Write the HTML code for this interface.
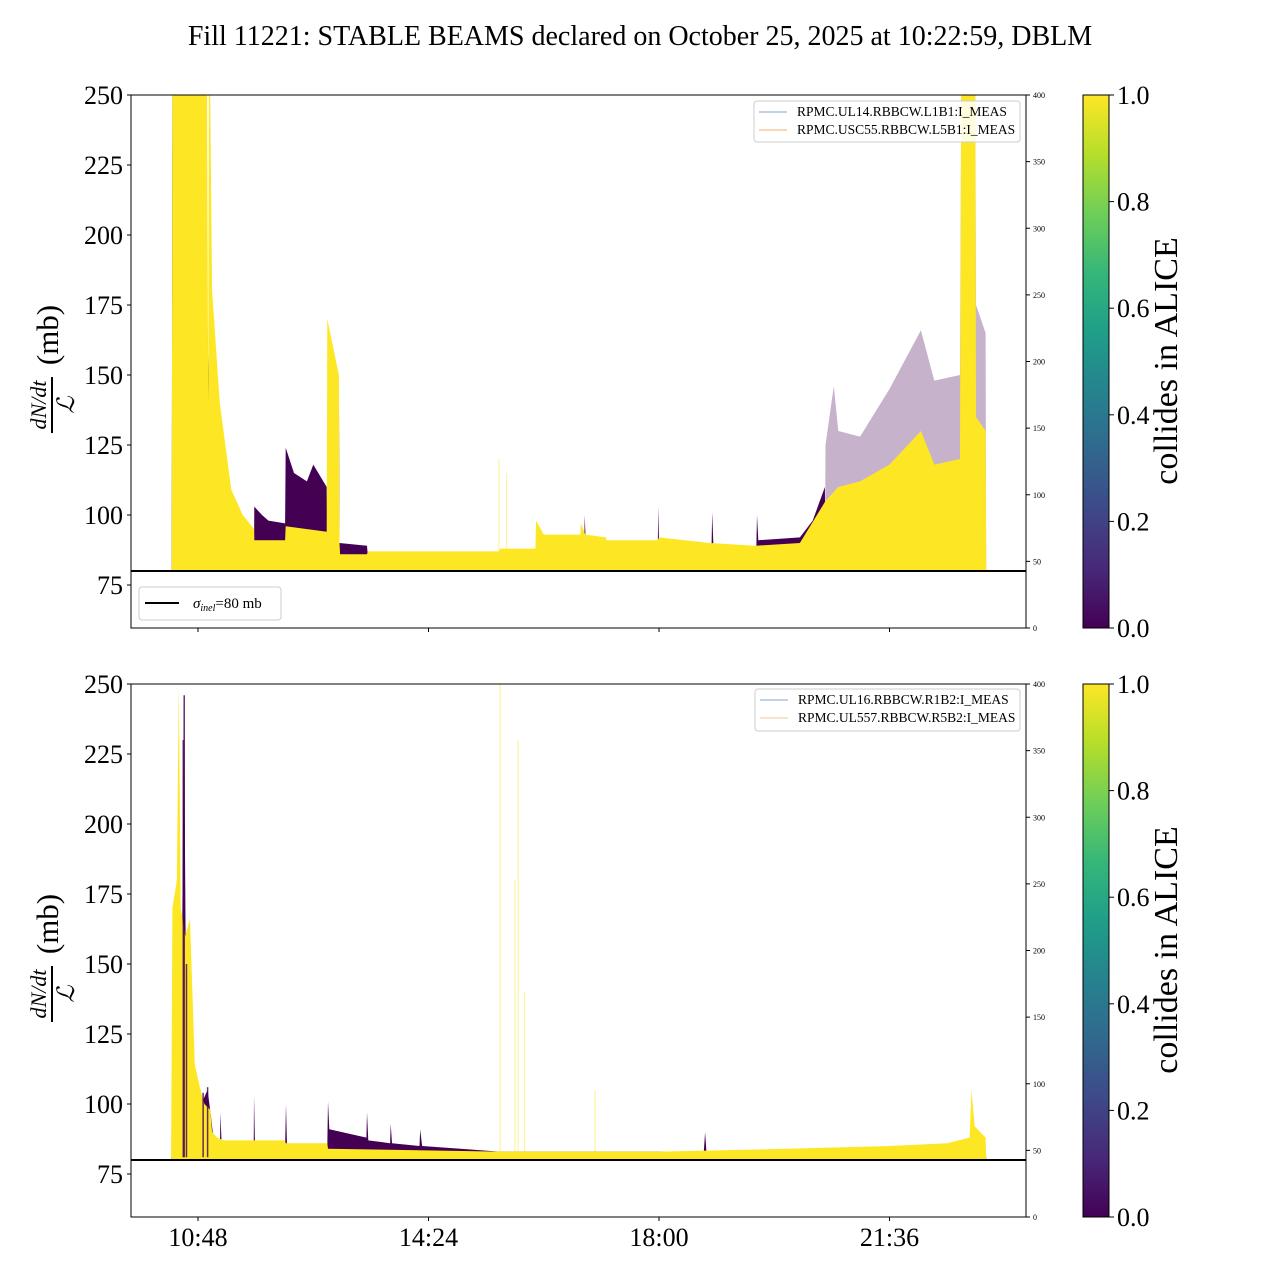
<!DOCTYPE html>
<html><head><meta charset="utf-8">
<style>
html,body{margin:0;padding:0;background:#fff;}
svg{display:block;font-family:"Liberation Serif","DejaVu Serif",serif;}
</style></head>
<body>
<svg id="chart" width="1280" height="1280" viewBox="0 0 1280 1280" xmlns="http://www.w3.org/2000/svg">
<defs>
<linearGradient id="viridis" x1="0" y1="1" x2="0" y2="0">
<stop offset="0" stop-color="#440154"/><stop offset="0.111" stop-color="#482878"/>
<stop offset="0.222" stop-color="#3e4989"/><stop offset="0.333" stop-color="#31688e"/>
<stop offset="0.444" stop-color="#26828e"/><stop offset="0.555" stop-color="#1f9e89"/>
<stop offset="0.666" stop-color="#35b779"/><stop offset="0.777" stop-color="#6ece58"/>
<stop offset="0.888" stop-color="#b5de2b"/><stop offset="1" stop-color="#fde725"/>
</linearGradient>
<clipPath id="clipTop"><rect x="131" y="95" width="895" height="533"/></clipPath>
<clipPath id="clipBot"><rect x="131" y="684" width="895" height="533"/></clipPath>
</defs>
<text x="640" y="45" font-size="28" text-anchor="middle">Fill 11221: STABLE BEAMS declared on October 25, 2025 at 10:22:59, DBLM</text>
<g id="layer"></g>
</svg>
<script>
// ---- data (hours of day, mb) ----
const xTickHours = [10.8, 14.4, 18.0, 21.6];
const xTickLabels = ["10:48", "14:24", "18:00", "21:36"];
const yTicks = [75, 100, 125, 150, 175, 200, 225, 250];
const rightTicks = [0, 50, 100, 150, 200, 250, 300, 350, 400];
const cbarTicks = [0.0, 0.2, 0.4, 0.6, 0.8, 1.0];

const topYellowT = [10.39,10.40,10.94,10.96,10.97,10.99,11.02,11.14,11.32,11.5,11.675,11.68,12.16,12.17,12.81,12.82,13.0,13.01,13.02,13.44,13.45,15.5,15.52,16.07,16.08,16.2,16.77,16.78,16.85,17.17,17.18,17.98,18.0,18.8,19.5,20.2,20.6,20.8,21.14,21.6,22.09,22.3,22.7,22.72,22.94,22.95,23.1,23.11];
const topYellowV = [81,250,250,140,250,250,180,140,109,100,95,91,91,96,94,170,150,90,86,86,87,87,88,88,98,93,93,97,93,92,91,91,92,90,89,90,105,110,112,118,130,118,120,250,250,135,130,81];
const topPurpleT = [10.39,10.40,10.91,10.93,10.99,11.14,11.3,11.675,11.68,11.8,11.9,12.16,12.17,12.3,12.5,12.6,12.81,12.82,12.99,13.0,13.01,13.44,13.45,16.83,16.84,16.86,17.98,17.99,18.0,18.82,18.83,18.85,19.52,19.53,19.55,20.2,20.4,20.59,20.6];
const topPurpleV = [81,250,250,187,120,95,88,86,103,100,98,97,124,115,112,118,110,92,92,149,90,89,86,86,100,88,88,103,89,88,101,89,88,100,91,92,98,110,81];
const topFaintT = [20.59,20.6,20.73,20.8,21.14,21.6,22.09,22.3,22.7,22.72,22.94,22.95,23.1,23.11];
const topFaintV = [81,125,146,130,128,145,166,148,150,250,250,175,165,81];

const botYellowT = [10.38,10.40,10.47,10.50,10.53,10.6,10.675,10.75,10.83,10.9,10.99,11.02,11.1,11.2,12.16,12.17,12.82,12.83,15.5,18.0,20.0,21.6,22.5,22.85,22.88,22.93,23.1,23.11];
const botYellowV = [81,170,180,250,170,160,166,114,106,100,98,90,88,87,87,86,86,84,83,83,84,85,86,88,105,92,88,81];
const botPurpleT = [10.38,10.52,10.55,10.58,10.61,10.675,10.75,10.85,10.95,11.0,11.05,11.144,11.15,11.17,11.67,11.675,11.69,12.16,12.174,12.19,12.82,12.83,12.85,13.43,13.44,13.46,13.8,13.81,13.83,14.26,14.27,14.3,14.9,15.5,18.7,18.72,18.74,23.1,23.11];
const botPurpleV = [81,81,150,246,150,140,110,100,105,96,86,86,97,85,85,103,85,85,100,85,85,101,91,88,97,87,86,93,86,85,91,85,84,83,83,90,83,82,81];
const botPurpleSpikeT = [10.57, 10.585, 10.62, 10.88, 10.95];
const botPurpleSpikeV = [230, 246, 150, 104, 106];
const botSpikeT = [15.52, 15.75, 15.8, 15.9, 17.0];
const botSpikeV = [250, 180, 230, 140, 105];
const topSpikeT = [15.5, 15.62];
const topSpikeV = [120, 115];

// ---- axes ----
const NS = "http://www.w3.org/2000/svg";
const layer = document.getElementById("layer");
function xs(h){ return 198 + (h - 10.8) * 64.03; }
function ysF(top){ return v => top + (250 - v) * 2.8; }
function rs(top){ return v => top + 533 - v * 533 / 400; }
function mk(tag, attrs, parent){
  const e = document.createElementNS(NS, tag);
  for (const k in attrs) e.setAttribute(k, attrs[k]);
  (parent || layer).appendChild(e); return e;
}
function area(T, V, ys, color, op, parent, name){
  let d = "M" + xs(T[0]).toFixed(1) + "," + ys(80.3).toFixed(1);
  for (let i = 0; i < T.length; i++) d += "L" + xs(T[i]).toFixed(1) + "," + ys(V[i]).toFixed(1);
  d += "L" + xs(T[T.length-1]).toFixed(1) + "," + ys(80.3).toFixed(1) + "Z";
  const p = mk("path", {d: d, fill: color, "fill-opacity": op}, parent);
  
  
}
function spikes(T, V, ys, parent, name, color, op, w){
  for (let i = 0; i < T.length; i++){
    const l = mk("line", {x1: xs(T[i]), x2: xs(T[i]), y1: ys(81), y2: ys(V[i]), stroke: color, "stroke-width": w, "stroke-opacity": op}, parent);
    
    
  }
}

function panel(top, idx){
  const ys = ysF(top);
  const rsc = rs(top);
  const g = mk("g", {"clip-path": idx === 0 ? "url(#clipTop)" : "url(#clipBot)"});
  
  
  if (idx === 0){
    area(topPurpleT, topPurpleV, ys, "#440154", 1, g, 'non-colliding-band');
    area(topFaintT, topFaintV, ys, "#440154", 0.3, g, 'non-colliding-faint-band');
    area(topYellowT, topYellowV, ys, "#fde725", 1, g, 'colliding-band');
    spikes(topSpikeT, topSpikeV, ys, g, 'colliding-spike', "#fde725", 0.45, 1.2);
  } else {
    area(botPurpleT, botPurpleV, ys, "#440154", 1, g, 'non-colliding-band');
    area(botYellowT, botYellowV, ys, "#fde725", 1, g, 'colliding-band');
    spikes(botPurpleSpikeT, botPurpleSpikeV, ys, g, 'non-colliding-spike', "#440154", 0.8, 1.5);
    spikes(botSpikeT, botSpikeV, ys, g, 'colliding-spike', "#fde725", 0.45, 1.2);
  }
  const ref = mk("line", {x1: 131, x2: 1026, y1: ys(80), y2: ys(80), stroke: "#000", "stroke-width": 2});
  
  
  const fr = mk("rect", {x: 131, y: top, width: 895, height: 533, fill: "none", stroke: "#000", "stroke-width": 1});
  
  
  yTicks.forEach(v => {
    mk("line", {x1: 127, x2: 131, y1: ys(v), y2: ys(v), stroke: "#000"});
    const t = mk("text", {x: 123, y: ys(v) + 9, "font-size": 26, "text-anchor": "end"});
    t.textContent = v;
    
    
  });
  rightTicks.forEach(v => {
    mk("line", {x1: 1026, x2: 1030, y1: rsc(v), y2: rsc(v), stroke: "#000"});
    const t = mk("text", {x: 1033, y: rsc(v) + 3, "font-size": 8});
    t.textContent = v;
    
    
  });
  xTickHours.forEach((h, i) => {
    mk("line", {x1: xs(h), x2: xs(h), y1: top + 533, y2: top + 537, stroke: "#000"});
    if (idx === 1){
      const t = mk("text", {x: xs(h), y: top + 562, "font-size": 26, "text-anchor": "middle"});
      t.textContent = xTickLabels[i];
      
      
    }
  });
  const cy = top + 266;
  const yl = mk("g", {transform: "translate(58," + cy + ") rotate(-90)"});
  
  
  const n = mk("text", {x: -44, y: -12, "font-size": 22, "font-style": "italic", "text-anchor": "middle"}, yl);
  n.textContent = "dN/dt";
  mk("line", {x1: -72, x2: -16, y1: -6, y2: -6, stroke: "#000", "stroke-width": 2}, yl);
  const dd = mk("text", {x: -44, y: 16, "font-size": 24, "font-style": "italic", "text-anchor": "middle"}, yl);
  dd.textContent = "ℒ";
  const mb = mk("text", {x: 26, y: 0, "font-size": 31, "text-anchor": "middle"}, yl);
  mb.textContent = "(mb)";
  const cb = mk("rect", {x: 1083, y: top, width: 26, height: 533, fill: "url(#viridis)", stroke: "#000", "stroke-width": 1});
  
  
  cbarTicks.forEach(v => {
    const y = top + 533 - v * 533;
    mk("line", {x1: 1109, x2: 1114, y1: y, y2: y, stroke: "#000"});
    const t = mk("text", {x: 1117, y: y + 9, "font-size": 26});
    t.textContent = v.toFixed(1);
    
    
  });
  const cl = mk("text", {x: 0, y: 0, "font-size": 34, "text-anchor": "middle", transform: "translate(1177," + cy + ") rotate(-90)"});
  cl.textContent = "collides in ALICE";
  
  
}
panel(95, 0);
panel(684, 1);

function legend(x, y, w, h, items, name){
  const g = mk("g", {});
  
  
  mk("rect", {x: x, y: y, width: w, height: h, rx: 3, fill: "#fff", "fill-opacity": 0.85, stroke: "#ccc"}, g);
  items.forEach((it, i) => {
    const yy = y + 11 + i * 18;
    mk("line", {x1: x + 5, x2: x + 33, y1: yy, y2: yy, stroke: it.c, "stroke-width": 1}, g);
    const t = mk("text", {x: x + 43, y: yy + 4, "font-size": 13.5}, g);
    t.textContent = it.t;
    
    
  });
}
legend(754, 101, 266, 41, [{c: "#7fa6cf", t: "RPMC.UL14.RBBCW.L1B1:I_MEAS"}, {c: "#f5b26b", t: "RPMC.USC55.RBBCW.L5B1:I_MEAS"}], 'top-legend');
legend(755, 689, 265, 42, [{c: "#7fa6cf", t: "RPMC.UL16.RBBCW.R1B2:I_MEAS"}, {c: "#f5c79a", t: "RPMC.UL557.RBBCW.R5B2:I_MEAS"}], 'bottom-legend');

const sg = mk("g", {});


mk("rect", {x: 139, y: 587, width: 142, height: 33, rx: 3, fill: "#fff", stroke: "#ccc"}, sg);
mk("line", {x1: 145, x2: 179, y1: 603, y2: 603, stroke: "#000", "stroke-width": 2}, sg);
const st = mk("text", {x: 193, y: 608, "font-size": 15}, sg);
st.innerHTML = '<tspan font-style="italic">σ</tspan><tspan font-style="italic" font-size="10" dy="3">inel</tspan><tspan dy="-3">=80 mb</tspan>';
</script>
</body></html>
